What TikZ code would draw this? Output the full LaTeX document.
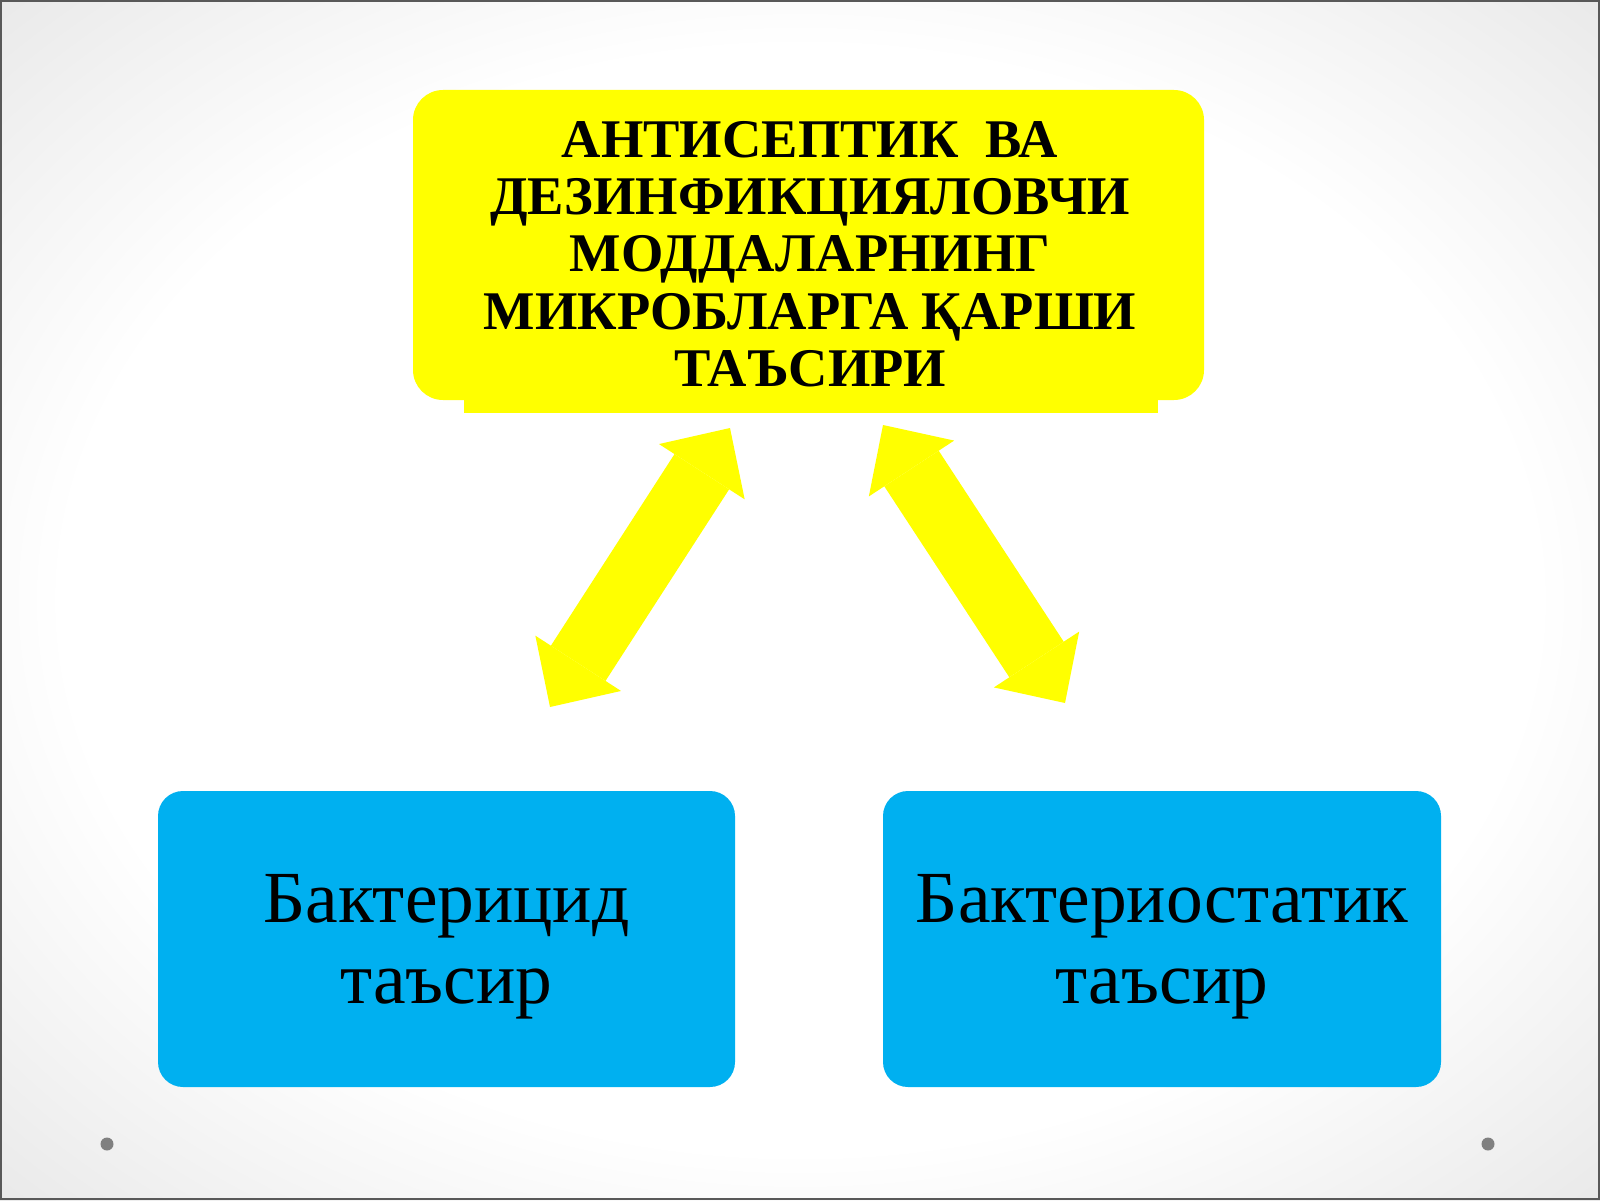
\documentclass[tikz,border=0pt]{standalone}
\usepackage{fontspec}
\setmainfont{Liberation Serif}
\usetikzlibrary{arrows.meta}
\pgfdeclarelayer{bg}
\pgfsetlayers{bg,main}
\definecolor{slideyellow}{RGB}{255,255,0}
\definecolor{slideblue}{RGB}{0,176,240}
\definecolor{slidegrey}{RGB}{216,216,216}
\definecolor{slidemid}{RGB}{234,234,234}
\definecolor{dotgrey}{RGB}{128,128,128}
\pgfdeclareradialshading{slidebg}{\pgfpoint{0bp}{0bp}}{color(0bp)=(white); color(23bp)=(white); color(35bp)=(slidemid); color(50bp)=(slidegrey)}
\tikzset{
        topbox/.style={fill=slideyellow, rounded corners=0.3cm, minimum width=7.91cm, minimum height=3.10cm},
        toptext/.style={align=center, font=\fontsize{15.5}{16.3}\selectfont\bfseries},
        kindbox/.style={fill=slideblue, rounded corners=0.25cm, minimum height=2.96cm, text depth=0pt, align=center, font=\fontsize{20.9}{22.8}\selectfont},
        bigarrow/.style={slideyellow, line width=0.65cm, <->, >={Triangle[length=0.52cm, width=1.02cm, line width=0pt]}}
}

\begin{document}
\begin{tikzpicture}
        \useasboundingbox (0cm, 0cm) rectangle (16cm, 12cm);
        \begin{pgfonlayer}{bg}
                \shade[shading=slidebg] (0cm, 0cm) rectangle (16cm, 12cm);
                \draw[line width=0.02cm, black!65] (0.01cm, 0.01cm) rectangle (15.99cm, 11.99cm);
                \fill[dotgrey] (1.07cm, 0.56cm) circle (0.065cm);
                \fill[dotgrey] (14.88cm, 0.56cm) circle (0.065cm);
                \fill[slideyellow] (4.64cm, 7.87cm) rectangle (11.58cm, 8.2cm);
        \end{pgfonlayer}
        \node (t0) [topbox] at (8.085000cm, 9.550000cm) {};
        \node (t1) [toptext] at (8.100000cm, 9.460000cm) {АНТИСЕПТИК\ \ ВА\\ДЕЗИНФИКЦИЯЛОВЧИ\\МОДДАЛАРНИНГ\\МИКРОБЛАРГА ҚАРШИ\\ТАЪСИРИ};
        \node (b0) [kindbox, minimum width=5.77cm] at (4.465000cm, 2.610000cm) {Бактерицид\\таъсир};
        \node (b1) [kindbox, minimum width=5.58cm] at (11.620000cm, 2.610000cm) {Бактериостатик\\таъсир};
        \coordinate (a0) at (7.300000cm, 7.720000cm);
        \coordinate (a1) at (5.500000cm, 4.930000cm);
        \coordinate (a2) at (8.830000cm, 7.750000cm);
        \coordinate (a3) at (10.650000cm, 4.970000cm);
        \draw[bigarrow] (a0) -- (a1);
        \draw[bigarrow] (a2) -- (a3);
\end{tikzpicture}
\end{document}
